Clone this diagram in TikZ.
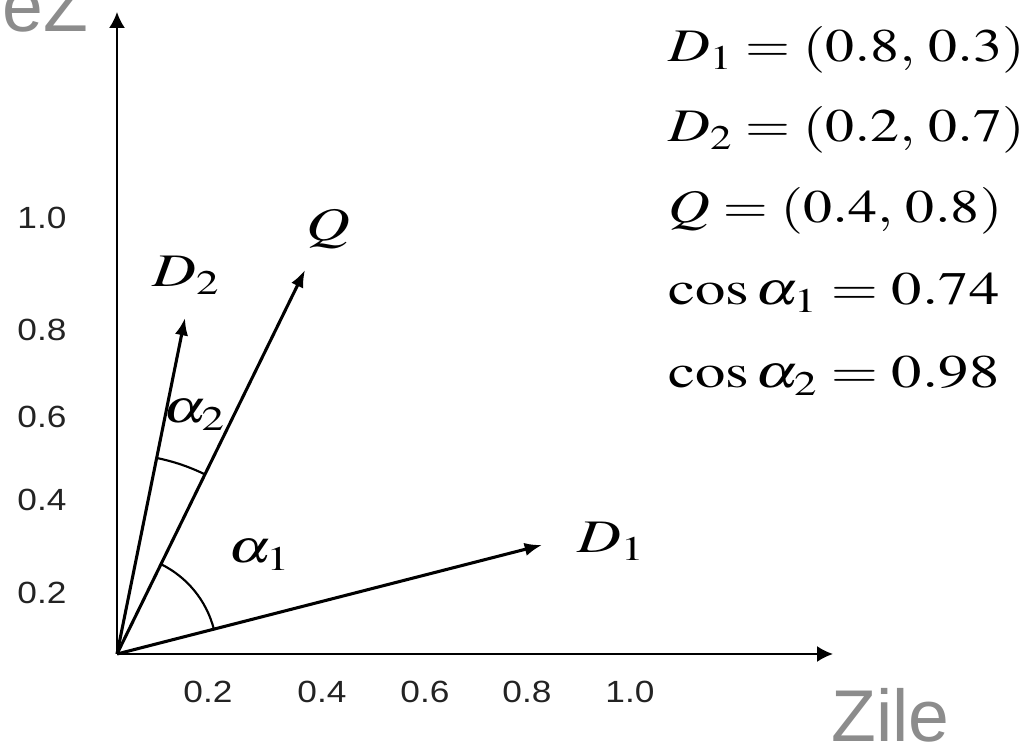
\documentclass[tikz,border=0pt]{standalone}
\usepackage{mathptmx}
\usepackage[no-math]{fontspec}
\setmainfont{Liberation Serif}
\newfontfamily\labsans{Liberation Sans}
\usepackage{graphicx}
\usetikzlibrary{arrows.meta}
\definecolor{labgray}{RGB}{140,140,140}
\definecolor{tickcol}{RGB}{35,35,35}
\newcommand\mstretch[1]{\scalebox{1.3}[1]{#1}}
\newcommand\mstretchb[1]{\scalebox{1.24}[1]{#1}}
\newcommand\tstretch[1]{\scalebox{1.15}[1]{#1}}
\begin{document}
\begin{tikzpicture}[x=0.75pt,y=0.75pt,
  axisline/.style={line width=1.5pt,-{Latex[length=12pt,width=12pt]}},
  vecline/.style={line width=2.3pt,-{Latex[length=13pt,width=10pt]}},
  anglearc/.style={line width=1.6pt},
  ticklab/.style={font=\labsans\fontsize{23}{27}\selectfont, text=tickcol, inner sep=0pt},
  mlabel/.style={font=\fontsize{35}{42}\selectfont, inner sep=0pt, anchor=base west},
  glabel/.style={font=\labsans\fontsize{55}{66}\selectfont, text=labgray, inner sep=0pt, anchor=base west}]
\useasboundingbox (0,0) rectangle (1034,748);
\clip (0,0) rectangle (1034,748);

% axes
\coordinate (O) at (117,94);
\coordinate (xend) at (833,94);
\coordinate (yend) at (117,736);
\draw[axisline] (O) -- (xend);
\draw[axisline] (O) -- (yend);

% vectors
\coordinate (d1) at (542,203);
\coordinate (q) at (305,478);
\coordinate (d2) at (185,430);
\draw[vecline] (O) -- (d1);
\draw[vecline] (O) -- (q);
\draw[vecline] (O) -- (d2);

% angle arcs
\draw[anglearc] ([shift={(14.38:75pt)}]O) arc[start angle=14.38, end angle=63.91, radius=75pt];
\draw[anglearc] ([shift={(63.91:150pt)}]O) arc[start angle=63.91, end angle=78.56, radius=150pt];

% vector and angle labels
\node[mlabel] (lD1) at (577,195) {\mstretch{$D_1$}};
\node[mlabel] (lD2) at (152,461) {\mstretch{$D_2$}};
\node[mlabel] (lQ) at (306,507) {\mstretch{$Q$}};
\node[mlabel] (la1) at (228,185) {\mstretch{$\alpha_1$}};
\node[mlabel] (la2) at (163,325) {\mstretch{$\alpha_2$}};

% right panel
\node[mlabel] (e1) at (668,686) {\mstretchb{$D_1 = (0.8,\, 0.3)$}};
\node[mlabel] (e2) at (668,606) {\mstretchb{$D_2 = (0.2,\, 0.7)$}};
\node[mlabel] (e3) at (668,525) {\mstretchb{$Q = (0.4,\, 0.8)$}};
\node[mlabel] (e4) at (668,443) {\mstretch{$\cos\alpha_1 = 0.74$}};
\node[mlabel] (e5) at (668,360) {\mstretch{$\cos\alpha_2 = 0.98$}};

% x tick labels
\node[ticklab] (tx1) at (208,56) {\tstretch{0.2}};
\node[ticklab] (tx2) at (322,56) {\tstretch{0.4}};
\node[ticklab] (tx3) at (425,56) {\tstretch{0.6}};
\node[ticklab] (tx4) at (527,56) {\tstretch{0.8}};
\node[ticklab] (tx5) at (630,56) {\tstretch{1.0}};

% y tick labels
\node[ticklab] (ty1) at (42,155) {\tstretch{0.2}};
\node[ticklab] (ty2) at (42,248) {\tstretch{0.4}};
\node[ticklab] (ty3) at (42,331) {\tstretch{0.6}};
\node[ticklab] (ty4) at (42,418) {\tstretch{0.8}};
\node[ticklab] (ty5) at (42,530) {\tstretch{1.0}};

% gray labels
\node[glabel] (zile) at (831,6) {Zile};
\node[glabel] (ez) at (2,716) {eZ};
\end{tikzpicture}
\end{document}
